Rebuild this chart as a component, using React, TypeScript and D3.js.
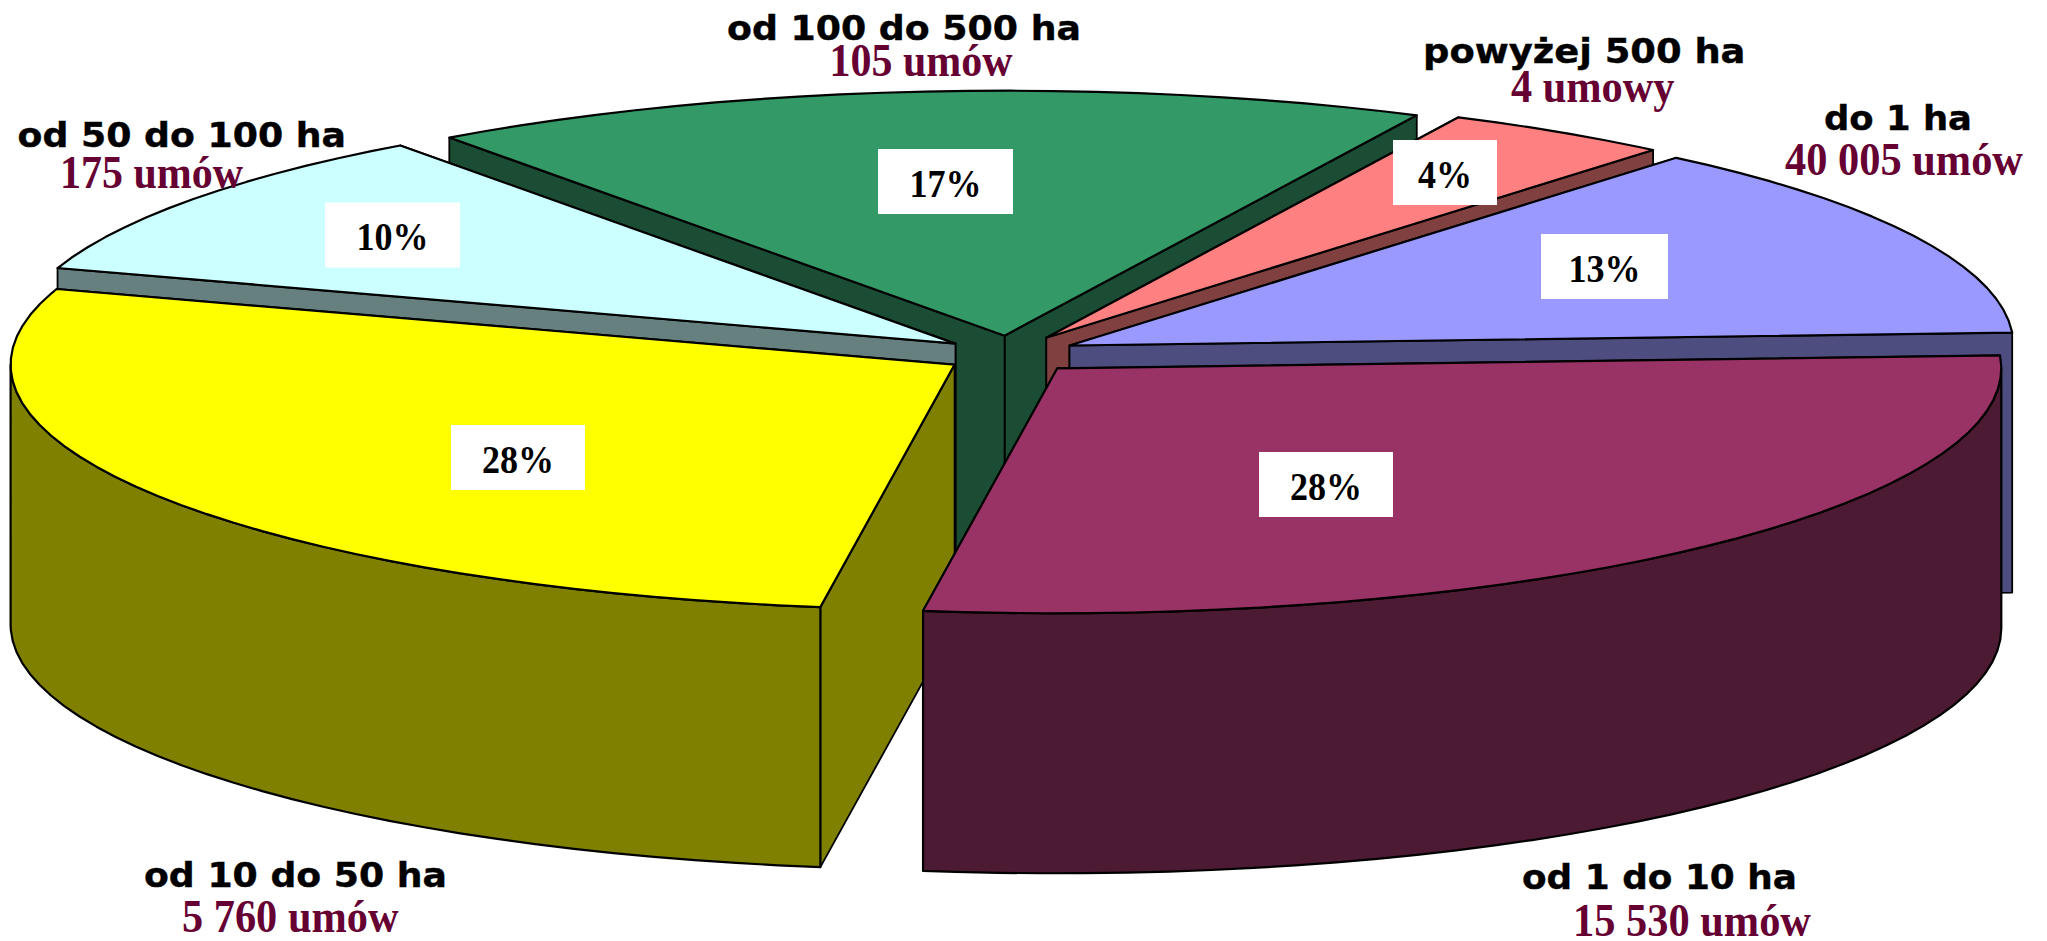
import React from "react";
import * as d3 from "d3";

// ---- data ----
const categories = ["do 1 ha", "od 1 do 10 ha", "od 10 do 50 ha", "od 50 do 100 ha", "od 100 do 500 ha", "powyżej 500 ha"];
const contractLabels = ["40 005 umów", "15 530 umów", "5 760 umów", "175 umów", "105 umów", "4 umowy"];
const percentLabels = [13, 28, 28, 10, 17, 4];
// shares (the labels above are these, rounded)
const shares = [13.05, 28.11, 27.72, 10, 17.2, 3.92];

// ---- style ----
const topColors = ["#9999FF", "#993366", "#FFFF00", "#CCFFFF", "#339966", "#FF8080"];
const sideColors = ["#4D4D80", "#4D1A33", "#808000", "#668080", "#1A4D33", "#804040"];

// ---- layout ----
const W = 2047, H = 941;
const RX = 944, RY = 245, DEPTH = 260;
const START_DEG = 40;
const centers: [number, number][] = [[1069.5, 345.5], [1057.3, 368.3], [954.6, 364.6], [955.5, 343.6], [1004.6, 335.7], [1046.3, 337.7]];
const paintOrder = [4, 5, 0, 3, 2, 1];
// x centre, y centre, width, height
const pctBoxes = [[1604.5, 266.5, 127, 65], [1326, 484.5, 134, 65], [518, 457.5, 134, 65], [392.5, 235, 135, 65], [945.5, 181.5, 135, 65], [1445, 172.5, 104, 65]];
// x-left, x-right, baseline
const catPos = [[1824, 1972, 130], [1522, 1797, 889], [144, 447, 887], [17.5, 346, 147], [727, 1081, 40], [1423, 1745.5, 63]];
const countPos = [[1785, 2023, 175], [1573, 1811, 936], [182, 398.5, 932], [60, 243, 188], [829.5, 1012.5, 76], [1511, 1674.5, 102]];

const pie = d3.pie<number>().sort(null).value((d) => d)
  .startAngle((START_DEG * Math.PI) / 180)
  .endAngle(((START_DEG + 360) * Math.PI) / 180);
const arcs = pie(shares);

const line = d3.line<[number, number]>().curve(d3.curveLinear);
const STEP = (2.6 * Math.PI) / 180;

function rim(i: number, a: number): [number, number] {
  const [cx, cy] = centers[i];
  return [cx + RX * Math.sin(a), cy - RY * Math.cos(a)];
}
function rimPts(i: number, a0: number, a1: number): [number, number][] {
  const pts = d3.range(a0, a1, STEP).map((a) => rim(i, a));
  pts.push(rim(i, a1));
  return pts;
}
const down = (p: [number, number]): [number, number] => [p[0], p[1] + DEPTH];

function Slice({ i }: { i: number }) {
  const { startAngle: a0, endAngle: a1 } = arcs[i];
  const c = centers[i];
  const faces = [a0, a1]
    .map((a) => ({ a, y: rim(i, a)[1] }))
    .sort((p, q) => p.y - q.y)
    .map(({ a }) => {
      const r = rim(i, a);
      return line([c, r, down(r), down(c)]) + "Z";
    });
  const lo = Math.max(a0, Math.PI / 2);
  const hi = Math.min(a1, (3 * Math.PI) / 2);
  let wall: string | null = null;
  if (hi > lo) {
    const upper = rimPts(i, lo, hi);
    wall = line([...upper, ...upper.slice().reverse().map(down)]) + "Z";
  }
  const top = line([c, ...rimPts(i, a0, a1)]) + "Z";
  return (
    <g stroke="#000" strokeLinejoin="round">
      {faces.map((d, k) => (
        <path key={k} d={d} fill={sideColors[i]} strokeWidth={1.8} />
      ))}
      {wall && <path d={wall} fill={sideColors[i]} strokeWidth={2.2} />}
      <path d={top} fill={topColors[i]} strokeWidth={2.2} />
    </g>
  );
}

const SANS = "'DejaVu Sans', Verdana, sans-serif";
const SERIF = "'Liberation Serif', 'Times New Roman', serif";

export default function App() {
  return (
    <svg width={W} height={H} viewBox={`0 0 ${W} ${H}`} style={{ position: "absolute", left: 0, top: 0, display: "block", background: "#fff" }}>
      {paintOrder.map((i) => (
        <Slice key={i} i={i} />
      ))}
      {percentLabels.map((p, i) => {
        const [x, y, w, h] = pctBoxes[i];
        const digits = String(p).length;
        return (
          <g key={i}>
            <rect x={x - w / 2} y={y - h / 2} width={w} height={h} fill="#fff" />
            <text x={x} y={y + 15} textAnchor="middle" textLength={36 * (0.5 * digits + 1)} lengthAdjust="spacingAndGlyphs" fontFamily={SERIF} fontWeight="bold" fontSize={40} fill="#000">
              {p}%
            </text>
          </g>
        );
      })}
      {categories.map((t, i) => {
        const [x0, x1, y] = catPos[i];
        return (
          <text key={i} x={x0} y={y} textLength={x1 - x0} lengthAdjust="spacingAndGlyphs" fontFamily={SANS} fontWeight="bold" fontSize={34} fill="#000" stroke="#000" strokeWidth={0.4}>
            {t}
          </text>
        );
      })}
      {contractLabels.map((t, i) => {
        const [x0, x1, y] = countPos[i];
        return (
          <text key={i} x={x0} y={y} textLength={x1 - x0} lengthAdjust="spacingAndGlyphs" fontFamily={SERIF} fontWeight="bold" fontSize={46} fill="#660033">
            {t}
          </text>
        );
      })}
    </svg>
  );
}
